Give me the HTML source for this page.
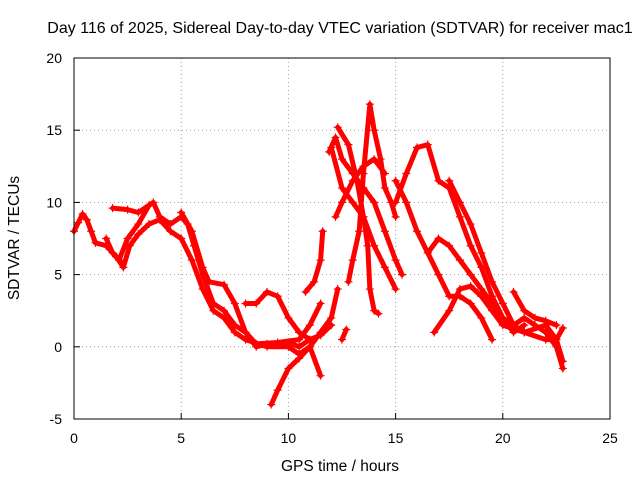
<!DOCTYPE html>
<html><head><meta charset="utf-8"><style>
html,body{margin:0;padding:0;background:#fff;}
svg{display:block;font-family:"Liberation Sans",sans-serif;}
</style></head><body>
<svg id="chart" width="640" height="480">
<text x="340" y="33" font-size="16" text-anchor="middle">Day 116 of 2025, Sidereal Day-to-day VTEC variation (SDTVAR) for receiver mac1</text>
<text x="340" y="471" font-size="15.5" text-anchor="middle">GPS time / hours</text>
<text transform="translate(19,238) rotate(-90)" font-size="15.5" text-anchor="middle">SDTVAR / TECUs</text>
<g id="grid"></g><g id="series"></g>
<rect x="74" y="58" width="536" height="361" fill="none" stroke="#000" stroke-width="1"/>
</svg>
<script>
const xTicks=[0,5,10,15,20,25];
const yTicks=[-5,0,5,10,15,20];
const tracks=[
[[0,8],[0.2,8.6],[0.4,9.2],[0.6,8.8],[0.8,8.0],[1.0,7.2],[1.5,7.0],[2.0,6.2],[2.3,5.5],[2.6,7.0],[3.0,7.8],[3.5,8.5],[4.0,8.8],[4.5,8.0],[5,7.5],[5.5,6],[6,4],[6.5,2.5],[7,2],[7.5,1],[8,0.5],[9,0],[10,0],[10.5,-0.5],[11,0],[11.5,-2]],
[[1.5,7.5],[1.8,6.5],[2.1,6],[2.5,7.5],[3,8.5],[3.5,9.8],[3.7,10],[4,9],[4.5,8.5],[5,9],[5.3,8.5],[5.6,7],[6,5],[6.5,3],[7,2.5],[7.5,1.5],[8,1],[8.5,0],[9,0.2],[10,0.3],[10.5,0],[11,0.5]],
[[1.8,9.6],[2.5,9.5],[3,9.3],[3.5,9.8]],
[[5,9.3],[5.5,8],[6,5.5],[6.3,4.5],[7,4.3],[7.5,3],[8,1],[8.5,0.2],[9.5,0.3],[10.5,0.5],[11,1.5],[11.5,3]],
[[9.2,-4],[9.5,-3],[10,-1.5],[10.5,-0.8],[11,0],[11.5,1],[12,2],[12.3,4]],
[[8,3],[8.5,3],[9,3.8],[9.5,3.5],[10,2],[10.5,1],[11,0.5],[11.5,0.8],[12,1.5]],
[[10.8,3.8],[11.2,4.5],[11.5,6],[11.6,8]],
[[11.9,13.5],[12.2,14.5],[12.5,13],[13,12],[13.5,11],[14,10],[14.5,8],[15,6],[15.3,5]],
[[12,13.8],[12.5,11],[13,10],[13.5,9],[14,7],[14.5,5.5],[15,4]],
[[12.3,15.2],[12.8,14],[13.2,11.5],[13.5,9],[13.7,7],[13.8,4],[14,2.5],[14.2,2.3]],
[[12.8,4.5],[13,6],[13.3,8],[13.5,12],[13.8,16.8],[14,15],[14.3,13],[14.5,11],[14.8,10],[15,9]],
[[12.2,9],[12.5,10],[13,11.5],[13.5,12.5],[14,13],[14.5,12]],
[[15,10],[15.5,12],[16,13.8],[16.5,14],[17,11.5],[17.5,11],[18,9],[18.5,7],[19,5.5],[19.5,3.5],[20,2],[20.5,1],[21,1.5]],
[[15,11.5],[15.5,10],[16,8],[16.5,6.5],[17,5],[17.5,3.5],[18,3.5],[18.5,3],[19,2],[19.5,0.5]],
[[16.5,6.5],[17,7.5],[17.5,7],[18,6],[18.5,5],[19,4],[19.5,3],[20,2],[20.5,1.5],[21,2],[21.5,1.5],[22,1],[22.5,0],[22.8,-1.5]],
[[16.8,1],[17.5,2.5],[18,4],[18.5,4.2],[19,3.5],[19.5,2.5],[20,1.5],[21,1],[22,0.5],[22.5,0.5],[22.8,1.3]],
[[17.5,11.5],[18,10],[18.5,8.5],[19,6.5],[19.5,4.5],[20,3],[20.5,1.5],[21,1],[22,1.5],[22.5,0.5],[22.8,-1]],
[[12.5,0.5],[12.7,1.2]],
[[20.5,3.8],[21,2.5],[21.5,2],[22,1.8],[22.5,1.5]]
];
const NS='http://www.w3.org/2000/svg';
const X=v=>74+(v-0)/25*536;
const Y=v=>419-(v+5)/25*361;
const grid=document.getElementById('grid'),ser=document.getElementById('series');
function mk(t,a,p){const e=document.createElementNS(NS,t);for(const k in a)e.setAttribute(k,a[k]);p.appendChild(e);return e;}
xTicks.forEach(t=>{
 const l=mk('line',{x1:X(t),x2:X(t),y1:58,y2:419,stroke:'#a0a0a0','stroke-dasharray':'1,3'},grid);
 
 
 const tx=mk('text',{x:X(t),y:443,'font-size':14,'text-anchor':'middle'},grid);tx.textContent=t;
 
 
 mk('line',{x1:X(t),x2:X(t),y1:419,y2:413,stroke:'#000'},grid);
});
yTicks.forEach(t=>{
 const l=mk('line',{x1:74,x2:610,y1:Y(t),y2:Y(t),stroke:'#a0a0a0','stroke-dasharray':'1,3'},grid);
 
 
 const tx=mk('text',{x:62,y:Y(t)+5,'font-size':14,'text-anchor':'end'},grid);tx.textContent=t;
 
 
 mk('line',{x1:74,x2:80,y1:Y(t),y2:Y(t),stroke:'#000'},grid);
});
tracks.forEach((tr,i)=>{
 const g=mk('g',{},ser);
 
 
 mk('polyline',{points:tr.map(p=>X(p[0])+','+Y(p[1])).join(' '),fill:'none',stroke:'#ff0000','stroke-width':5,'stroke-linejoin':'round','stroke-linecap':'round'},g);
 tr.forEach(p=>{
  const x=X(p[0]),y=Y(p[1]);
  const m=mk('path',{d:`M${x-4},${y}h8M${x},${y-4}v8`,stroke:'#ff0000','stroke-width':1.2},g);
  
  
 });
});
</script>
</body></html>
